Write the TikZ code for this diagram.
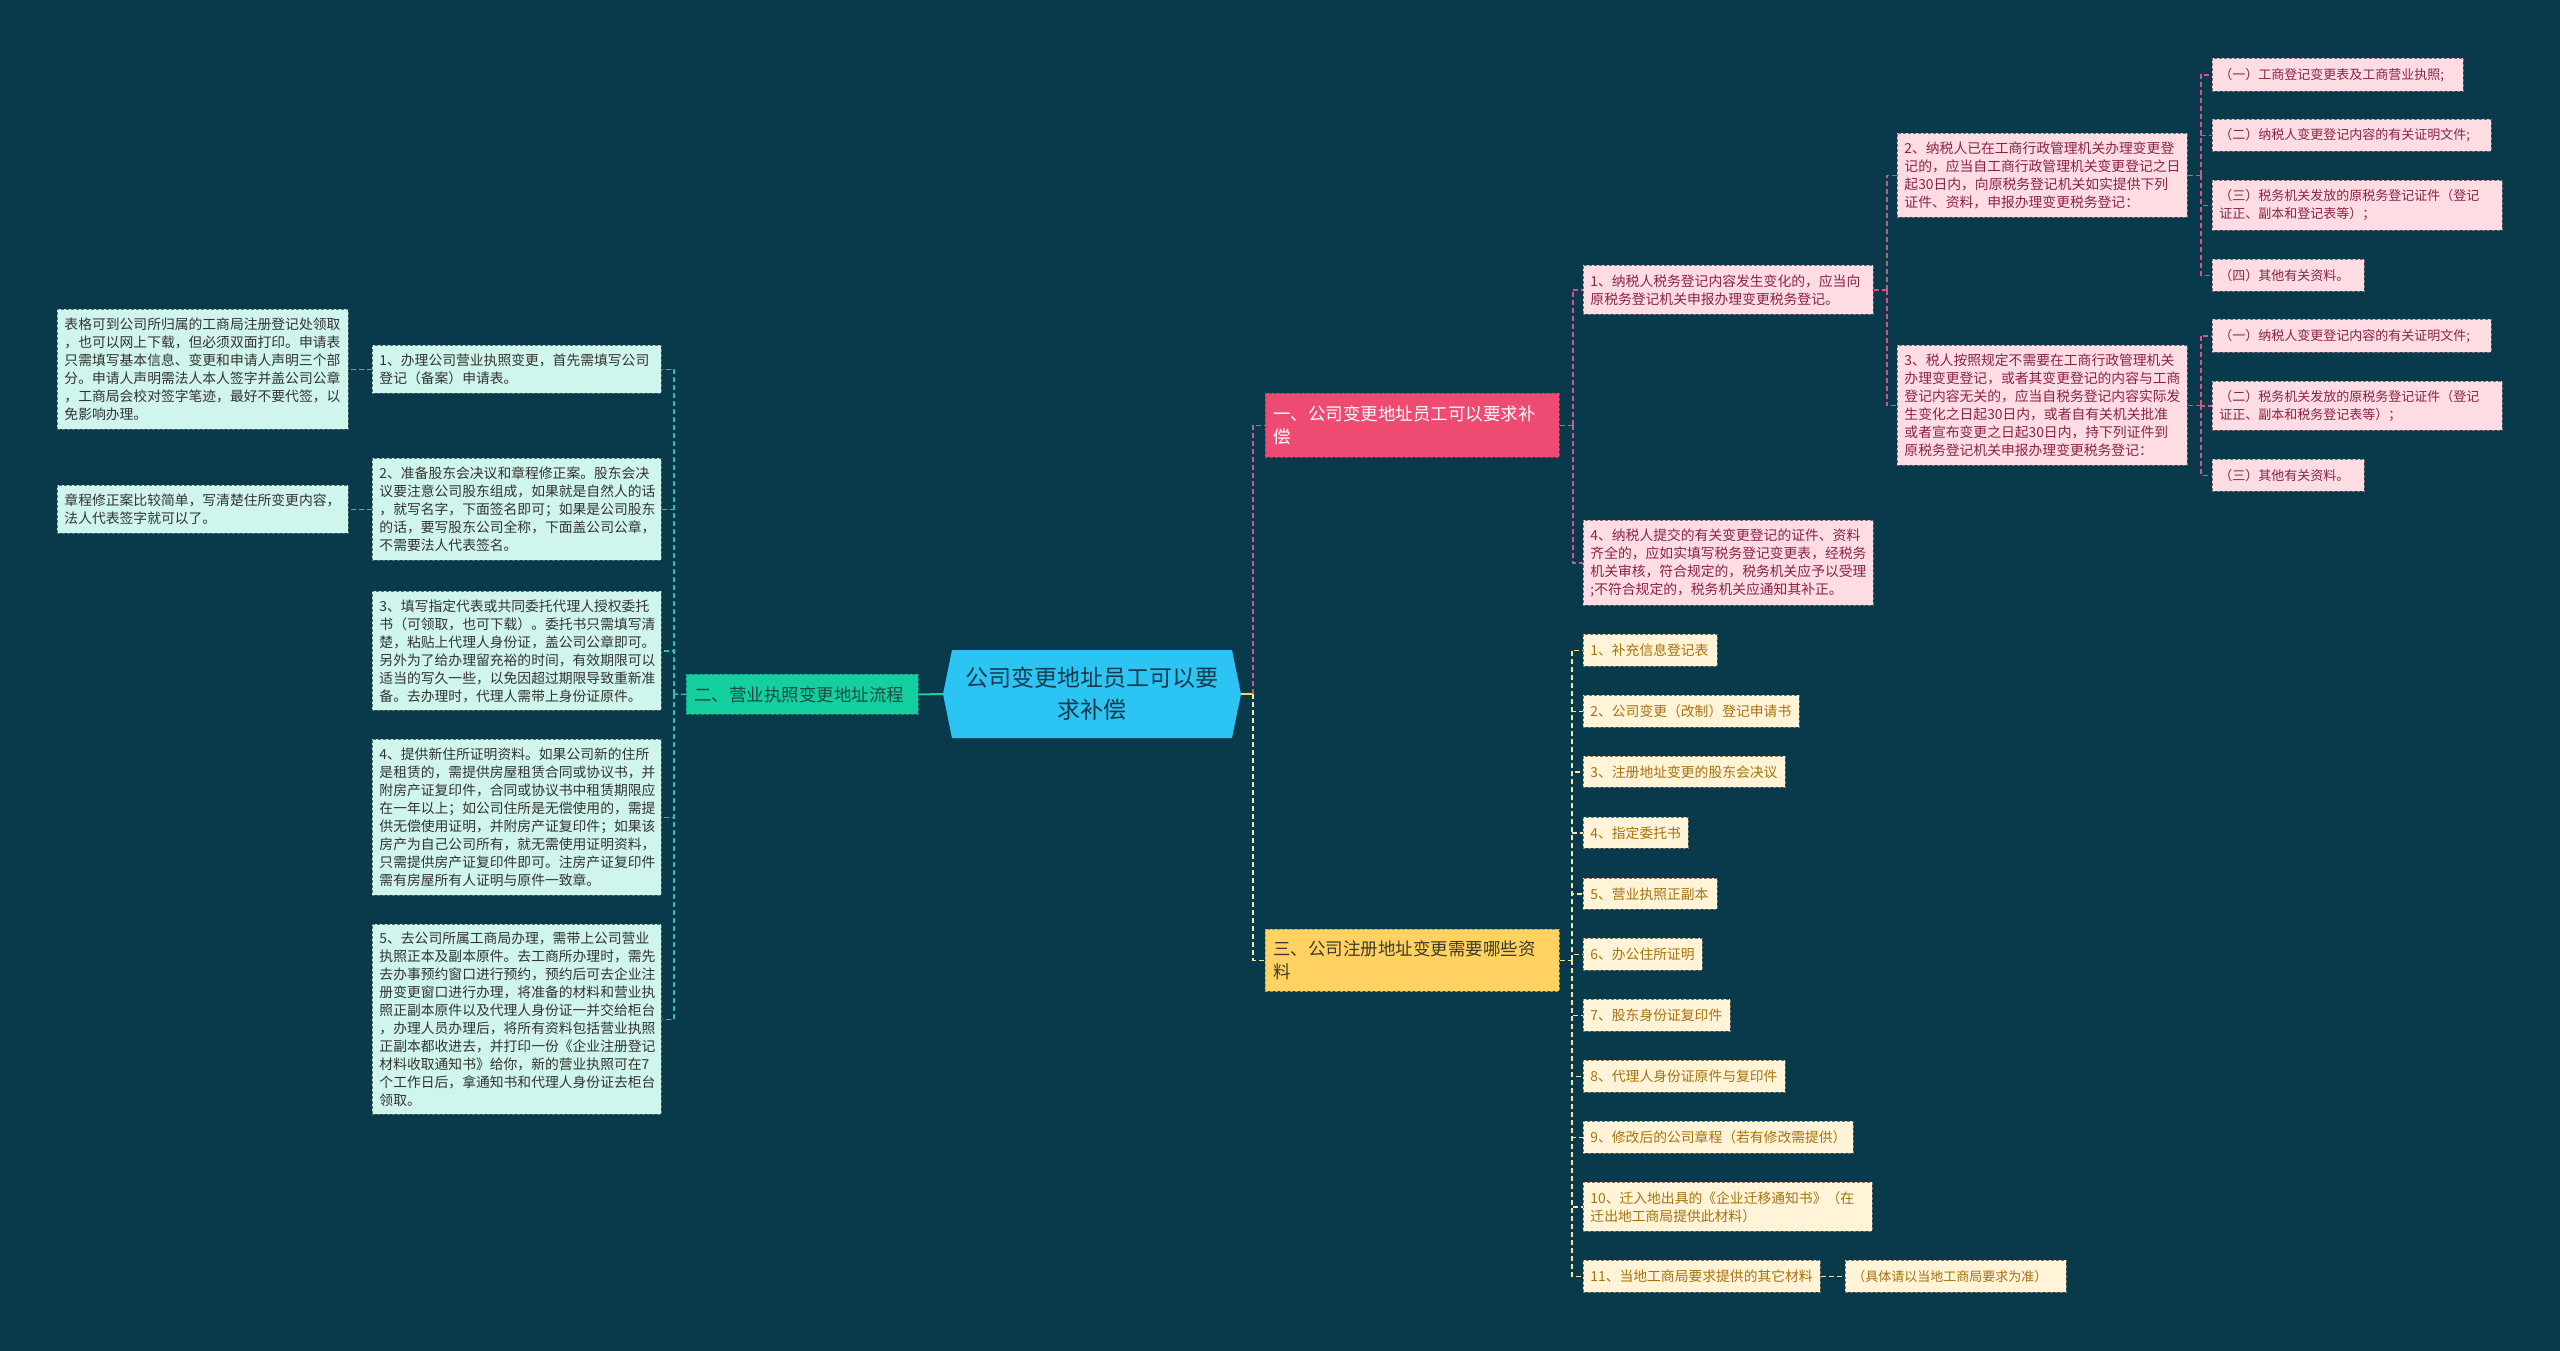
\documentclass[tikz,border=0pt]{standalone}
\usepackage{fontspec}
\setmainfont{Noto Sans CJK SC}
\usetikzlibrary{calc}
\definecolor{bgc}{HTML}{093A4B}
\definecolor{cfill}{HTML}{2BC4F3}
\definecolor{ctext}{HTML}{17394D}
\definecolor{b1fill}{HTML}{EE4A72}
\definecolor{b1bord}{HTML}{B8345A}
\definecolor{b2fill}{HTML}{14CF9F}
\definecolor{b2bord}{HTML}{0E8F70}
\definecolor{b2text}{HTML}{1C4A40}
\definecolor{b3fill}{HTML}{FFD261}
\definecolor{b3bord}{HTML}{B8964A}
\definecolor{b3text}{HTML}{3E3A2A}
\definecolor{lfill}{HTML}{CFF5EC}
\definecolor{lbord}{HTML}{55736F}
\definecolor{ltext}{HTML}{333333}
\definecolor{pfill}{HTML}{FDDCE3}
\definecolor{pbord}{HTML}{7D6B72}
\definecolor{ptext}{HTML}{8A2447}
\definecolor{yfill}{HTML}{FFF4D8}
\definecolor{ybord}{HTML}{7D7462}
\definecolor{ytext}{HTML}{A6720E}
\definecolor{tcon}{HTML}{30C2A8}
\definecolor{pcon}{HTML}{D9557F}
\definecolor{ycon}{HTML}{F4E4A8}
\begin{document}
\begin{tikzpicture}[x=1pt,y=-1pt,
  mmbox/.style={rectangle, anchor=north west, align=left, inner xsep=7pt, inner ysep=2pt,
    line width=0.9pt, dash pattern=on 3pt off 2pt},
  lbox/.style={mmbox, fill=lfill, draw=lbord, text=ltext, font=\fontsize{13.8}{18}\selectfont},
  pbox/.style={mmbox, fill=pfill, draw=pbord, text=ptext, font=\fontsize{13.8}{18}\selectfont},
  pleaf/.style={mmbox, fill=pfill, draw=pbord, text=ptext, font=\fontsize{13}{18}\selectfont},
  ybox/.style={mmbox, fill=yfill, draw=ybord, text=ytext, font=\fontsize{13.8}{18}\selectfont},
  yleaf/.style={mmbox, fill=yfill, draw=ybord, text=ytext, font=\fontsize{13}{18}\selectfont},
  brbox/.style={rectangle, anchor=north west, align=left, inner xsep=8pt, inner ysep=2pt,
    line width=0.9pt, dash pattern=on 3pt off 2pt, font=\fontsize{17.5}{23}\selectfont},
  tline/.style={draw=tcon, line width=1.5pt, dash pattern=on 5pt off 3pt},
  pline/.style={draw=pcon, line width=1.5pt, dash pattern=on 5pt off 3pt},
  yline/.style={draw=ycon, line width=1.5pt, dash pattern=on 5pt off 3pt},
]
\useasboundingbox (0,0) rectangle (2560,1351);
\fill[bgc] (0,0) rectangle (2560,1351);

% center
\fill[cfill] (952,650) -- (943,694) -- (952,738) -- (1232,738) -- (1241,694) -- (1232,650) -- cycle;
\node[minimum width=297pt, minimum height=88pt, align=center, text=ctext,
  font=\fontsize{23}{32}\selectfont, inner sep=0pt] (C) at (1092,694) {公司变更地址员工可以要\\求补偿};

% branches
\node[brbox, fill=b1fill, draw=b1bord, text=white, text width=278pt, minimum height=64pt] (B1) at (1265,393) {一、公司变更地址员工可以要求补\\偿};
\node[brbox, fill=b2fill, draw=b2bord, text=b2text, text width=216pt, minimum height=40pt] (B2) at (686,674) {二、营业执照变更地址流程};
\node[brbox, fill=b3fill, draw=b3bord, text=b3text, text width=278pt, minimum height=62pt] (B3) at (1265,929) {三、公司注册地址变更需要哪些资\\料};

% left nodes
\node[lbox, text width=277pt, minimum height=120pt] (L1a) at (57,309) {表格可到公司所归属的工商局注册登记处领取\\，也可以网上下载，但必须双面打印。申请表\\只需填写基本信息、变更和申请人声明三个部\\分。申请人声明需法人本人签字并盖公司公章\\，工商局会校对签字笔迹，最好不要代签，以\\免影响办理。};
\node[lbox, text width=275pt, minimum height=48pt] (L1) at (372,345) {1、办理公司营业执照变更，首先需填写公司\\登记（备案）申请表。};
\node[lbox, text width=277pt, minimum height=48pt] (L2a) at (57,485) {章程修正案比较简单，写清楚住所变更内容，\\法人代表签字就可以了。};
\node[lbox, text width=275pt, minimum height=102pt] (L2) at (372,458) {2、准备股东会决议和章程修正案。股东会决\\议要注意公司股东组成，如果就是自然人的话\\，就写名字，下面签名即可；如果是公司股东\\的话，要写股东公司全称，下面盖公司公章，\\不需要法人代表签名。};
\node[lbox, text width=275pt, minimum height=119pt] (L3) at (372,591) {3、填写指定代表或共同委托代理人授权委托\\书（可领取，也可下载）。委托书只需填写清\\楚，粘贴上代理人身份证，盖公司公章即可。\\另外为了给办理留充裕的时间，有效期限可以\\适当的写久一些，以免因超过期限导致重新准\\备。去办理时，代理人需带上身份证原件。};
\node[lbox, text width=275pt, minimum height=156pt] (L4) at (372,739) {4、提供新住所证明资料。如果公司新的住所\\是租赁的，需提供房屋租赁合同或协议书，并\\附房产证复印件，合同或协议书中租赁期限应\\在一年以上；如公司住所是无偿使用的，需提\\供无偿使用证明，并附房产证复印件；如果该\\房产为自己公司所有，就无需使用证明资料，\\只需提供房产证复印件即可。注房产证复印件\\需有房屋所有人证明与原件一致章。};
\node[lbox, text width=275pt, minimum height=190pt] (L5) at (372,924) {5、去公司所属工商局办理，需带上公司营业\\执照正本及副本原件。去工商所办理时，需先\\去办事预约窗口进行预约，预约后可去企业注\\册变更窗口进行办理，将准备的材料和营业执\\照正副本原件以及代理人身份证一并交给柜台\\，办理人员办理后，将所有资料包括营业执照\\正副本都收进去，并打印一份《企业注册登记\\材料收取通知书》给你，新的营业执照可在7\\个工作日后，拿通知书和代理人身份证去柜台\\领取。};

% right pink nodes
\node[pbox, text width=276pt, minimum height=49pt] (R1) at (1583,265) {1、纳税人税务登记内容发生变化的，应当向\\原税务登记机关申报办理变更税务登记。};
\node[pbox, text width=276pt, minimum height=85pt] (R4) at (1583,520) {4、纳税人提交的有关变更登记的证件、资料\\齐全的，应如实填写税务登记变更表，经税务\\机关审核，符合规定的，税务机关应予以受理\\;不符合规定的，税务机关应通知其补正。};
\node[pbox, text width=276pt, minimum height=84pt] (R2) at (1897,133) {2、纳税人已在工商行政管理机关办理变更登\\记的，应当自工商行政管理机关变更登记之日\\起30日内，向原税务登记机关如实提供下列\\证件、资料，申报办理变更税务登记：};
\node[pbox, text width=276pt, minimum height=120pt] (R3) at (1897,345) {3、税人按照规定不需要在工商行政管理机关\\办理变更登记，或者其变更登记的内容与工商\\登记内容无关的，应当自税务登记内容实际发\\生变化之日起30日内，或者自有关机关批准\\或者宣布变更之日起30日内，持下列证件到\\原税务登记机关申报办理变更税务登记：};

\node[pleaf, text width=237pt, minimum height=33pt] (Pa) at (2212,58) {（一）工商登记变更表及工商营业执照;};
\node[pleaf, text width=265pt, minimum height=32pt] (Pb) at (2212,119) {（二）纳税人变更登记内容的有关证明文件;};
\node[pleaf, text width=276pt, minimum height=50pt] (Pc) at (2212,180) {（三）税务机关发放的原税务登记证件（登记\\证正、副本和登记表等）；};
\node[pleaf, text width=138pt, minimum height=32pt] (Pd) at (2212,259) {（四）其他有关资料。};
\node[pleaf, text width=265pt, minimum height=33pt] (Pe) at (2212,319) {（一）纳税人变更登记内容的有关证明文件;};
\node[pleaf, text width=276pt, minimum height=49pt] (Pf) at (2212,381) {（二）税务机关发放的原税务登记证件（登记\\证正、副本和税务登记表等）；};
\node[pleaf, text width=138pt, minimum height=32pt] (Pg) at (2212,459) {（三）其他有关资料。};

% yellow nodes
\node[ybox, text width=120pt, minimum height=32pt] (Y1) at (1583,634) {1、补充信息登记表};
\node[ybox, text width=202pt, minimum height=32pt] (Y2) at (1583,695) {2、公司变更（改制）登记申请书};
\node[ybox, text width=188pt, minimum height=31pt] (Y3) at (1583,756) {3、注册地址变更的股东会决议};
\node[ybox, text width=91pt, minimum height=31pt] (Y4) at (1583,817) {4、指定委托书};
\node[ybox, text width=120pt, minimum height=31pt] (Y5) at (1583,878) {5、营业执照正副本};
\node[ybox, text width=105pt, minimum height=32pt] (Y6) at (1583,938) {6、办公住所证明};
\node[ybox, text width=133pt, minimum height=32pt] (Y7) at (1583,999) {7、股东身份证复印件};
\node[ybox, text width=188pt, minimum height=32pt] (Y8) at (1583,1060) {8、代理人身份证原件与复印件};
\node[ybox, text width=256pt, minimum height=32pt] (Y9) at (1583,1121) {9、修改后的公司章程（若有修改需提供）};
\node[ybox, text width=275pt, minimum height=49pt] (Y10) at (1583,1182) {10、迁入地出具的《企业迁移通知书》（在\\迁出地工商局提供此材料）};
\node[ybox, text width=223pt, minimum height=32pt] (Y11) at (1583,1260) {11、当地工商局要求提供的其它材料};
\node[yleaf, text width=207pt, minimum height=32pt] (Y11a) at (1845,1260) {（具体请以当地工商局要求为准）};

% connectors: center
\coordinate (cbar) at (1253,694);
\draw[draw=b3fill, line width=2pt] (C.east) -- (cbar);
\draw[draw=b2fill, line width=2pt] (C.west) -- (B2.east);
\draw[pline] (cbar) |- (B1.west);
\draw[yline] (cbar) |- (B3.west);

% left
\coordinate (lbar) at (674,694);
\draw[tline] (B2.west) -- (lbar);
\foreach \n in {L1,L2,L3,L4,L5} \draw[tline] (lbar) |- (\n.east);
\draw[tline] (L1.west) -- (L1a.east);
\draw[tline] (L2.west) -- (L2a.east);

% branch 1
\coordinate (r1bar) at ($(B1.east)+(13,0)$);
\draw[pline] (B1.east) -- (r1bar);
\foreach \n in {R1,R4} \draw[pline] (r1bar) |- (\n.west);
\coordinate (r2bar) at ($(R1.east)+(13,0)$);
\draw[pline] (R1.east) -- (r2bar);
\foreach \n in {R2,R3} \draw[pline] (r2bar) |- (\n.west);
\coordinate (r3bar) at ($(R2.east)+(13,0)$);
\draw[pline] (R2.east) -- (r3bar);
\foreach \n in {Pa,Pb,Pc,Pd} \draw[pline] (r3bar) |- (\n.west);
\coordinate (r4bar) at ($(R3.east)+(13,0)$);
\draw[pline] (R3.east) -- (r4bar);
\foreach \n in {Pe,Pf,Pg} \draw[pline] (r4bar) |- (\n.west);

% branch 3
\coordinate (ybar) at ($(B3.east)+(12,0)$);
\draw[yline] (B3.east) -- (ybar);
\foreach \n in {Y1,Y2,Y3,Y4,Y5,Y6,Y7,Y8,Y9,Y10,Y11} \draw[yline] (ybar) |- (\n.west);
\draw[yline] (Y11.east) -- (Y11a.west);
\end{tikzpicture}
\end{document}
